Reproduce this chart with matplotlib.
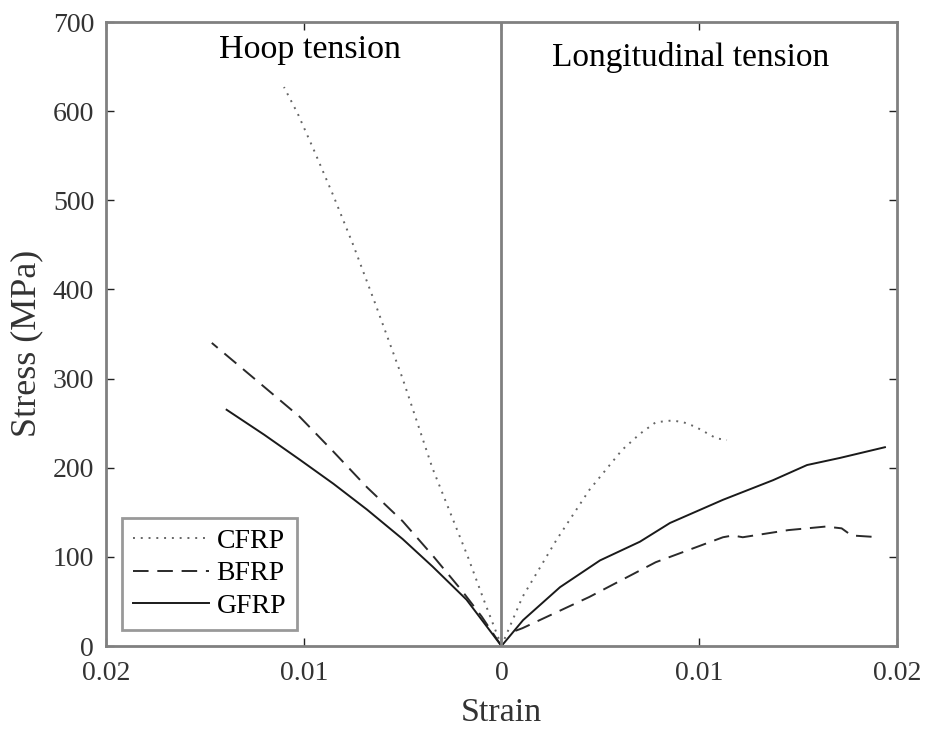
import numpy as np
import matplotlib.pyplot as plt
from matplotlib.ticker import FuncFormatter

plt.rcParams['font.family'] = ['Liberation Serif', 'DejaVu Serif']

# Hoop tension (strain plotted as negative, labels show absolute value)
hoop_cfrp_strain = [0, 0.0009, 0.0017, 0.0035, 0.0050, 0.0064, 0.0075, 0.0085, 0.0095, 0.0103, 0.0110]
hoop_cfrp_stress = [0, 52, 100, 200, 300, 385, 450, 505, 557, 597, 627]

hoop_bfrp_strain = [0, 0.0010, 0.0020, 0.0035, 0.0050, 0.0068, 0.0085, 0.0102, 0.0125, 0.01465]
hoop_bfrp_stress = [0, 33, 62, 102, 140, 178, 218, 257, 300, 340]

hoop_gfrp_strain = [0, 0.00177, 0.00348, 0.0050, 0.0068, 0.0085, 0.0102, 0.0120, 0.0139]
hoop_gfrp_stress = [0, 52, 89, 120, 153, 182, 209, 237, 265]

# Longitudinal tension
long_cfrp_strain = [0, 0.00106, 0.00278, 0.00444, 0.0061, 0.0070, 0.0078, 0.00864, 0.0092, 0.0098, 0.01086, 0.0114]
long_cfrp_stress = [0, 55, 119, 175, 220, 238, 251, 253, 251, 246, 233, 231]

long_bfrp_strain = [0.0007, 0.00106, 0.00444, 0.0078, 0.0112, 0.0117, 0.0122, 0.0145, 0.0164, 0.0172, 0.0177, 0.0191]
long_bfrp_stress = [17, 20, 55, 94, 122, 124, 122, 130, 134, 132, 124, 122]

long_gfrp_strain = [0, 0.00109, 0.00296, 0.00498, 0.0070, 0.00852, 0.0112, 0.01373, 0.01545, 0.01712, 0.01939]
long_gfrp_stress = [0, 29, 66, 96, 117, 138, 164, 186, 203, 211, 223]

axis_gray = '#808080'
dotted = (0, (1, 3))
dashed = (0, (8, 4.5))

fig = plt.figure(figsize=(9.28, 7.31), dpi=100)
ax = fig.add_axes([106 / 928, 1 - 646 / 731, (897 - 106) / 928, (646 - 22) / 731])

ax.plot(-np.array(hoop_cfrp_strain), hoop_cfrp_stress, color='#666666', ls=dotted, lw=1.4, label='CFRP')
ax.plot(-np.array(hoop_bfrp_strain), hoop_bfrp_stress, color='#2a2a2a', ls=dashed, lw=1.4, label='BFRP')
ax.plot(-np.array(hoop_gfrp_strain), hoop_gfrp_stress, color='#1a1a1a', ls='-', lw=1.4, label='GFRP')

ax.plot(long_cfrp_strain, long_cfrp_stress, color='#666666', ls=dotted, lw=1.4)
ax.plot(long_bfrp_strain, long_bfrp_stress, color='#2a2a2a', ls=dashed, lw=1.4)
ax.plot(long_gfrp_strain, long_gfrp_stress, color='#1a1a1a', ls='-', lw=1.4)

ax.axvline(0, color=axis_gray, lw=2)

ax.set_xlim(-0.02, 0.02)
ax.set_ylim(0, 700)
ax.set_xticks([-0.02, -0.01, 0, 0.01, 0.02])
ax.set_yticks(range(0, 701, 100))
ax.xaxis.set_major_formatter(FuncFormatter(lambda v, p: '0' if abs(v) < 1e-9 else '%g' % abs(v)))
ax.tick_params(direction='in', top=True, right=True, length=6, width=1, colors='#222222',
               labelsize=20, labelcolor='#333333')
ax.tick_params(axis='x', pad=11)
ax.tick_params(axis='y', pad=8.5)
for s in ax.spines.values():
    s.set_color(axis_gray)
    s.set_linewidth(2)

ax.set_xlabel('Strain', fontsize=24.5, color='#333333', va='center')
ax.xaxis.set_label_coords(0.5, (646 - 713) / 624)
ax.set_ylabel('Stress (MPa)', fontsize=26, color='#333333', va='center')
ax.yaxis.set_label_coords((27 - 106) / 791, (646 - 343) / 624)

ax.text(-0.0097, 659.5, 'Hoop tension', fontsize=24.5, ha='center', va='baseline', color='black')
ax.text(0.00958, 650.5, 'Longitudinal tension', fontsize=24, ha='center', va='baseline', color='black')

leg = ax.legend(loc='lower left', bbox_to_anchor=((122 - 106) / 791, (646 - 630) / 624), fontsize=20,
                frameon=True, fancybox=False, handlelength=2.75, handletextpad=0.25, borderpad=0.4,
                labelspacing=0.25, borderaxespad=0)
leg.get_frame().set_edgecolor(axis_gray)
leg.get_frame().set_linewidth(2)

fig.savefig('out.png', dpi=100)
